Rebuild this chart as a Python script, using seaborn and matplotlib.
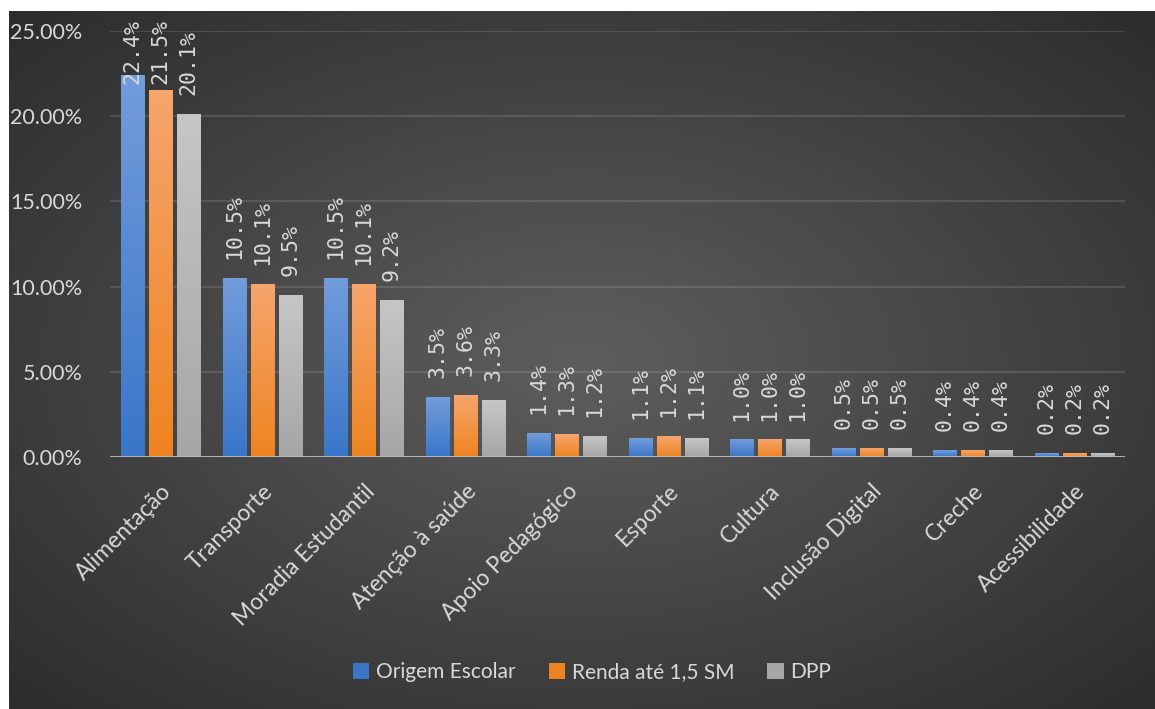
# Gráfico de barras agrupadas: auxílios por grupo de ingresso
import numpy as np
import pandas as pd
import matplotlib.pyplot as plt
from matplotlib.colors import LinearSegmentedColormap
from matplotlib.patches import Patch
import seaborn as sns

# Dados (percentuais)
categorias = ["Alimentação", "Transporte", "Moradia Estudantil", "Atenção à saúde",
              "Apoio Pedagógico", "Esporte", "Cultura", "Inclusão Digital",
              "Creche", "Acessibilidade"]
origem_escolar = [22.4, 10.5, 10.5, 3.5, 1.4, 1.1, 1.0, 0.5, 0.4, 0.2]
renda_15sm = [21.5, 10.1, 10.1, 3.6, 1.3, 1.2, 1.0, 0.5, 0.4, 0.2]
dpp = [20.1, 9.5, 9.2, 3.3, 1.2, 1.1, 1.0, 0.5, 0.4, 0.2]
grupos = ["Origem Escolar", "Renda até 1,5 SM", "DPP"]

df = pd.DataFrame({
    "Categoria": categorias * 3,
    "Grupo": np.repeat(grupos, len(categorias)),
    "Valor": np.array(origem_escolar + renda_15sm + dpp) / 100,
})

# cores (topo, base) de cada série
cores = [("#729cdb", "#3a76c8"), ("#f6a56d", "#ee8420"), ("#c6c6c6", "#a6a6a6")]
cor_texto = "#d9d9d9"

sns.set_theme(style="dark")
plt.rcParams["font.family"] = ["Lato", "DejaVu Sans"]

W, H = 1155, 709
fig = plt.figure(figsize=(W / 100, H / 100), dpi=100)
fig.patch.set_facecolor("white")

# Fundo com gradiente radial
bg = fig.add_axes([9 / W, 0, 1146 / W, 698 / H])
yy, xx = np.mgrid[0:1:300j, 0:1:500j]
r = np.sqrt(((xx - 0.5) / 0.75) ** 2 + ((yy - 0.5) / 0.75) ** 2)
r = np.clip(r / 0.95, 0, 1)
fundo = LinearSegmentedColormap.from_list("fundo", ["#5e5e5e", "#2c2c2c"])
bg.imshow(r, cmap=fundo, aspect="auto", extent=(0, 1, 0, 1), vmin=0, vmax=1)
bg.set_axis_off()

ax = fig.add_axes([110 / W, 252 / H, 1015 / W, 426 / H])
ax.set_facecolor("none")

sns.barplot(data=df, x="Categoria", y="Valor", hue="Grupo",
            palette=[c[1] for c in cores], width=0.83, gap=0.18,
            edgecolor="none", ax=ax, legend=False)

xlim = ax.get_xlim()
ax.set_ylim(0, 0.25)

# Gradiente vertical nas barras + rótulos
pad = 14
rotulos = []
for cont, (topo, base) in zip(ax.containers, cores):
    cmap = LinearSegmentedColormap.from_list("g", [base, topo])
    for bar in cont:
        x0, w, h = bar.get_x(), bar.get_width(), bar.get_height()
        ax.imshow(np.linspace(0, 1, 64).reshape(-1, 1), cmap=cmap, origin="lower",
                  extent=(x0, x0 + w, 0, h), aspect="auto", zorder=3)
    rotulos += ax.bar_label(cont, fmt=lambda v: f"{v * 100:.1f}%", rotation=90,
                            padding=pad, color=cor_texto, fontsize=15.5,
                            family="DejaVu Sans Mono", zorder=6)

ax.set_xlim(xlim)
ax.set_ylim(0, 0.25)

# grade e eixo
ax.set_yticks(np.arange(0, 0.2501, 0.05))
ax.yaxis.grid(True, color="white", alpha=0.12, lw=1.5)
ax.xaxis.grid(False)
ax.set_axisbelow(True)
ax.axhline(0, color="#bdbdbd", lw=2, zorder=4)
for s in ax.spines.values():
    s.set_visible(False)

ax.yaxis.set_major_formatter(plt.FuncFormatter(lambda v, p: f"{v * 100:.2f}%"))
ax.tick_params(axis="y", length=0, pad=20, labelsize=15.5, labelcolor=cor_texto)
ax.tick_params(axis="x", length=0, pad=17, labelsize=16.5, labelcolor=cor_texto)
plt.setp(ax.get_xticklabels(), rotation=45, ha="right", rotation_mode="anchor")
ax.set_xlabel("")
ax.set_ylabel("")

# Legenda
handles = [Patch(facecolor=c[1], edgecolor="none") for c in cores]
fig.legend(handles, grupos, loc="center", bbox_to_anchor=(592 / W, 1 - 672 / H),
           ncol=3, frameon=False, fontsize=15, handlelength=0.8, handleheight=0.8,
           handletextpad=0.3, columnspacing=1.6, labelcolor=cor_texto)

# rótulos que passam do topo descem (como no Excel)
fig.canvas.draw()
for t in rotulos:
    topo_px = t.get_window_extent().y1
    limite = H - 19
    if topo_px > limite:
        t.xyann = (0, pad - (topo_px - limite) * 72 / 100)

fig.savefig("out.png", dpi=100)
